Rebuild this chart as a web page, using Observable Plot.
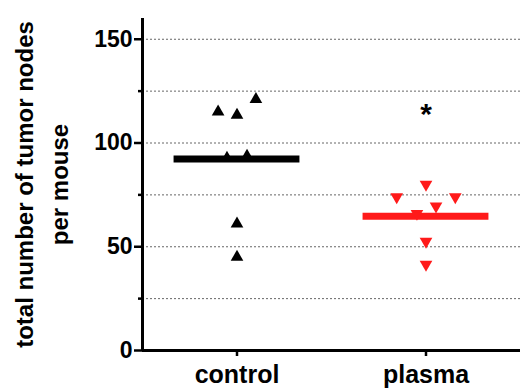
<!DOCTYPE html>
<html>
<head>
<meta charset="utf-8">
<script src="https://cdn.jsdelivr.net/npm/d3@7"></script>
<script src="https://cdn.jsdelivr.net/npm/@observablehq/plot@0.6"></script>
<style>
  html, body { margin: 0; padding: 0; background: #fff; }
  #chart svg { display: block; }
</style>
</head>
<body>
<div id="chart"></div>
<script>
// Data
const groups = ["control", "plasma"];
const controlValues = [121, 115, 113.5, 93.7, 92.7, 61, 45];
const controlJitter = [0.1, -0.1, 0, 0.053, -0.053, 0, 0];
const plasmaValues = [80, 74, 74, 69.6, 66, 52.6, 41.5];
const plasmaJitter = [0, -0.155, 0.155, 0.053, -0.048, 0, 0];
const means = [92.3, 64.7];
const majorTicks = [0, 50, 100, 150];
const minorTicks = [25, 75, 125];
const gridValues = [25, 50, 75, 100, 125, 150];
const significance = [{group: 1, value: 117, label: "*"}];
const yTitle = "total number of tumor nodes\nper mouse";

const points = [
  ...controlValues.map((v, i) => ({g: 0, x: 0 + controlJitter[i], y: v})),
  ...plasmaValues.map((v, i) => ({g: 1, x: 1 + plasmaJitter[i], y: v}))
];
const meanRows = means.map((m, i) => ({g: i, m}));

const triangleDown = {
  draw(context, size) {
    const y = -Math.sqrt(size / (Math.sqrt(3) * 3));
    context.moveTo(0, -2 * y);
    context.lineTo(-Math.sqrt(3) * y, y);
    context.lineTo(Math.sqrt(3) * y, y);
    context.closePath();
  }
};

const font = "'Liberation Sans', Arial, Helvetica, sans-serif";

const chart = Plot.plot({
  width: 520,
  height: 389,
  marginLeft: 142,
  marginRight: 0,
  marginTop: 18,
  marginBottom: 39,
  style: {fontFamily: font, fontWeight: "bold", color: "black", background: "white", overflow: "visible"},
  x: {domain: [-0.5, 1.5], axis: null},
  y: {domain: [0, 160], axis: null},
  marks: [
    Plot.ruleY(gridValues, {x1: -0.5, x2: 1.5, stroke: "#666", strokeWidth: 1, strokeDasharray: "2,2"}),
    Plot.axisY({ticks: majorTicks, tickSize: 8, tickPadding: 2, strokeWidth: 2.5, fontSize: 23, fill: "black", label: null}),
    Plot.axisY({ticks: minorTicks, tickSize: 4, strokeWidth: 2.5, tickFormat: () => "", label: null}),
    Plot.axisX({ticks: [0, 1], tickFormat: (d) => groups[d], tickSize: 6, tickPadding: 9, strokeWidth: 2.5, fontSize: 25, fill: "black", label: null}),
    Plot.ruleY([0], {x1: -0.5, x2: 1.5, stroke: "black", strokeWidth: 3}),
    Plot.ruleX([-0.5], {y1: 0, y2: 160, stroke: "black", strokeWidth: 3}),
    Plot.dot(points.filter(d => d.g === 0), {x: "x", y: "y", symbol: "triangle", r: 4.7, fill: "black", stroke: "none"}),
    Plot.dot(points.filter(d => d.g === 1), {x: "x", y: "y", symbol: triangleDown, r: 4.7, fill: "#ff1a1a", stroke: "none"}),
    Plot.ruleY(meanRows, {y: "m", x1: d => d.g - 0.333, x2: d => d.g + 0.333, stroke: d => d.g === 0 ? "black" : "#ff1a1a", strokeWidth: 7}),
    Plot.text(significance, {x: "group", y: "value", text: "label", fontSize: 30, fontWeight: "bold", fill: "black", dy: 7}),
    Plot.text([yTitle], {frameAnchor: "left", textAnchor: "middle", lineAnchor: "middle", rotate: -90, dx: -103, fontSize: 24, fontWeight: "bold", fill: "black", lineHeight: 1.45})
  ]
});
document.getElementById("chart").appendChild(chart);
</script>
</body>
</html>
